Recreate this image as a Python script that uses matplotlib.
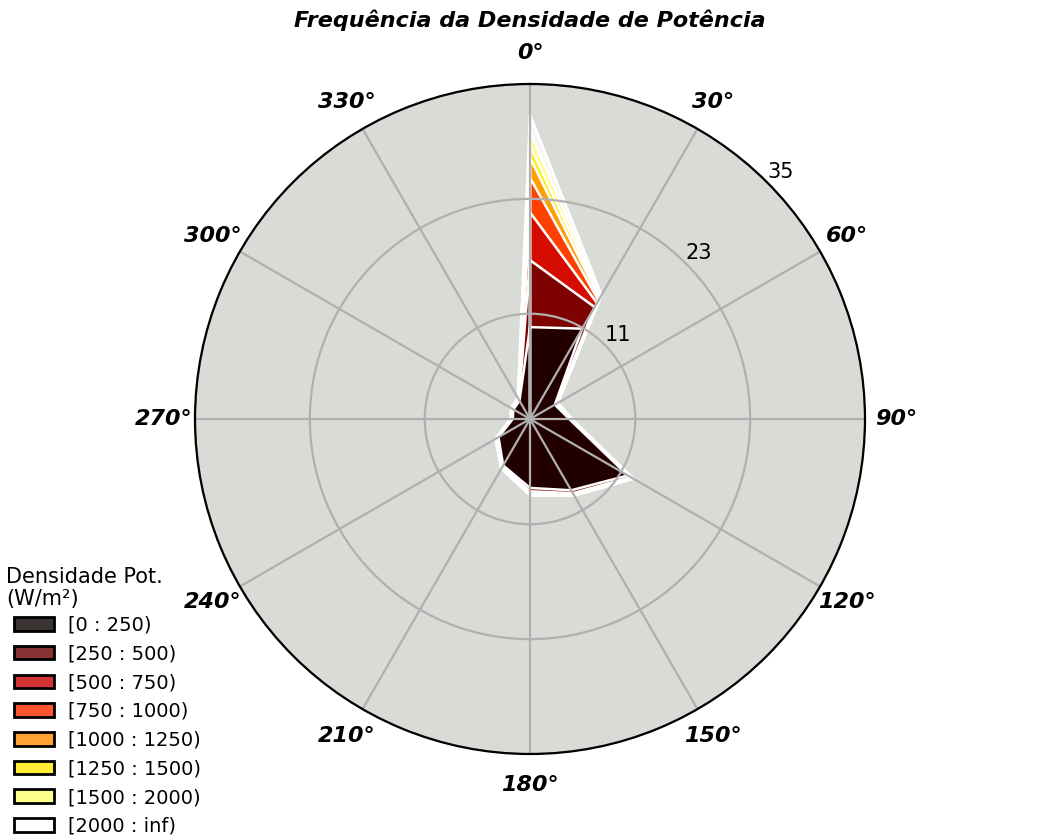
import numpy as np
import matplotlib
matplotlib.use("Agg")
import matplotlib.pyplot as plt
from matplotlib.patches import Patch

# direcoes (graus) e frequencias (%) por faixa de densidade de potencia
direcoes = [0, 30, 60, 90, 120, 150, 180, 210, 240, 270, 300, 330]
faixas = ["[0 : 250)", "[250 : 500)", "[500 : 750)", "[750 : 1000)",
          "[1000 : 1250)", "[1250 : 1500)", "[1500 : 2000)", "[2000 : inf)"]

f0 = [9.6, 10.9, 3.0, 4.1, 11.8, 8.6, 7.2, 5.6, 3.8, 1.8, 2.0, 2.2]
f1 = [7.0, 2.6, 0.15, 0.1, 0.35, 0.35, 0.35, 0.15, 0.15, 0.1, 0.1, 0.1]
f2 = [5.0, 0.5, 0.05, 0.05, 0.1, 0.1, 0.15, 0.05, 0.05, 0.05, 0.05, 0.05]
f3 = [3.6, 0.3, 0.05, 0.03, 0.05, 0.05, 0.1, 0.05, 0.05, 0.03, 0.03, 0.05]
f4 = [2.1, 0.2, 0.03, 0.03, 0.05, 0.05, 0.05, 0.05, 0.03, 0.03, 0.03, 0.05]
f5 = [1.3, 0.15, 0.03, 0.02, 0.05, 0.03, 0.05, 0.03, 0.03, 0.02, 0.02, 0.03]
f6 = [1.4, 0.15, 0.03, 0.02, 0.05, 0.03, 0.05, 0.03, 0.03, 0.02, 0.02, 0.03]
f7 = [1.8, 0.15, 0.05, 0.03, 0.05, 0.05, 0.05, 0.05, 0.03, 0.02, 0.03, 0.05]
freqs = [f0, f1, f2, f3, f4, f5, f6, f7]

r_ticks = [11, 23, 35]

#-----------------------------Plot---------------------------------------
fig = plt.figure(figsize=(10.6, 8.4), dpi=100)
ax = fig.add_axes([195/1060, 86/840, 670/1060, 670/840], projection="polar")
ax.set_theta_zero_location("N")
ax.set_theta_direction(-1)
ax.set_facecolor("#d8dbd6")

cores = plt.cm.hot(np.linspace(0, 1, len(freqs)))
cores[:, 3] = 0.8
theta = np.deg2rad(direcoes + [direcoes[0]])
acum = np.zeros(len(direcoes) + 1)
for i, f in enumerate(freqs):
    acum = acum + np.array(f + [f[0]])
    ax.fill(np.append(theta, 0), np.append(acum, 0), facecolor=cores[i],
            edgecolor="white", lw=1.8,
            zorder=1 + (len(freqs) - i) * 0.01)

ax.set_ylim(0, 35)
ax.set_rgrids(r_ticks, [str(r) for r in r_ticks], fontsize=15)
ax.set_rlabel_position(45)
ax.set_thetagrids(range(0, 360, 30), [f"{d}°" for d in range(0, 360, 30)],
                  fontsize=16, fontweight="bold", fontstyle="italic")
ax.tick_params(axis="x", pad=12)
ax.grid(True, color="#b0b0b0", lw=1.6)
ax.spines["polar"].set_linewidth(1.6)

ax.set_title("Frequência da Densidade de Potência", fontsize=16,
             fontweight="bold", fontstyle="italic", pad=41)

handles = [Patch(facecolor=cores[i], edgecolor="black", lw=2)
           for i in range(len(freqs))]
leg = fig.legend(handles, faixas, loc="lower left",
                 bbox_to_anchor=(6/1060, -3.5/840),
                 frameon=False, fontsize=14, borderaxespad=0,
                 handlelength=2.07, handletextpad=0.7, labelspacing=0.5)
fig.text(6/1060, 1 - 567/840, "Densidade Pot.\n(W/m²)", fontsize=15,
         ha="left", va="top", linespacing=1.12)

plt.savefig("out.png", dpi=100)
#-----------------------------------------------------------------------
